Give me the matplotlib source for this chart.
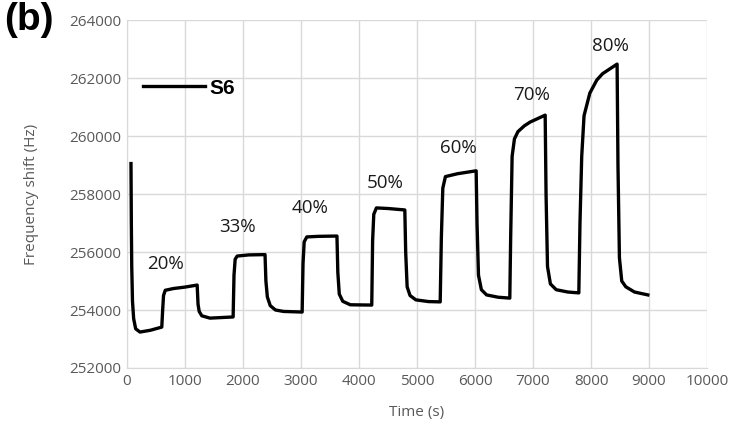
import matplotlib
matplotlib.use("Agg")
import matplotlib.pyplot as plt

# S6 response (time in s, frequency shift in Hz)
time_s = [69, 75, 82, 95, 115, 150, 224, 400, 600,
          615, 630, 660, 800, 1000, 1210,
          1225, 1245, 1290, 1430, 1830,
          1845, 1865, 1900, 2100, 2380,
          2395, 2420, 2470, 2560, 2700, 3020,
          3035, 3055, 3100, 3300, 3620,
          3635, 3660, 3720, 3850, 4220,
          4235, 4255, 4300, 4500, 4790,
          4805, 4830, 4880, 4980, 5200, 5400,
          5420, 5445, 5490, 5700, 6020,
          6035, 6060, 6110, 6200, 6400, 6600,
          6615, 6640, 6680, 6740, 6850, 6950, 7210,
          7225, 7250, 7300, 7400, 7600, 7790,
          7810, 7840, 7880, 7980, 8100, 8200, 8450,
          8465, 8490, 8530, 8600, 8750, 8980]
freq_hz = [259050, 257000, 255500, 254300, 253700, 253350, 253240, 253300, 253410,
           254000, 254500, 254680, 254740, 254790, 254860,
           254200, 253950, 253800, 253720, 253760,
           255200, 255750, 255860, 255900, 255910,
           255000, 254450, 254150, 254000, 253950, 253930,
           255600, 256350, 256520, 256540, 256550,
           255300, 254550, 254300, 254180, 254170,
           256400, 257300, 257520, 257500, 257450,
           256000, 254800, 254500, 254350, 254290, 254280,
           256500, 258200, 258600, 258700, 258800,
           257000, 255200, 254700, 254520, 254440, 254410,
           256500, 259300, 259900, 260150, 260350, 260480, 260720,
           258000, 255500, 254900, 254700, 254620, 254590,
           257000, 259300, 260700, 261480, 261930, 262150, 262480,
           259000, 255800, 255000, 254800, 254620, 254520]

step_labels = ["20%", "33%", "40%", "50%", "60%", "70%", "80%"]
label_t = [672, 1910, 3160, 4460, 5710, 6980, 8330]
label_f = [255590, 256860, 257520, 258380, 259590, 261410, 263100]

x_ticks = list(range(0, 10001, 1000))
y_ticks = list(range(252000, 264001, 2000))

gray = "#595959"
grid_c = "#d9d9d9"

plt.rcParams["font.family"] = ["Open Sans", "DejaVu Sans"]

fig = plt.figure(figsize=(7.37, 4.37), dpi=100)
ax = fig.add_axes([0.1723, 0.1579, 0.7870, 0.7963])

ax.plot(time_s, freq_hz, color="black", linewidth=2.4, label="S6",
        solid_joinstyle="round")

# humidity step labels
for txt, t, f in zip(step_labels, label_t, label_f):
    ax.text(t, f, txt, ha="center", va="center", fontsize=13.5, color="#1a1a1a")

ax.set_xlim(0, 10000)
ax.set_ylim(252000, 264000)
ax.set_xticks(x_ticks)
ax.set_yticks(y_ticks)
ax.tick_params(length=0, labelsize=11, colors=gray, pad=4)
ax.grid(True, color=grid_c, linewidth=1)
ax.set_axisbelow(True)
for side in ["top", "right"]:
    ax.spines[side].set_visible(False)
for side in ["left", "bottom"]:
    ax.spines[side].set_color(grid_c)

ax.set_xlabel("Time (s)", fontsize=11, color=gray, labelpad=12)
ax.set_ylabel("Frequency shift (Hz)", fontsize=11, color=gray, labelpad=22)

leg = ax.legend(loc="upper left", bbox_to_anchor=(-0.005, 0.885), frameon=False,
                handlelength=3.0, handletextpad=0.2,
                prop={"family": "Liberation Sans", "weight": "bold", "size": 15})

fig.text(0.006, 0.995, "(b)", fontsize=28, fontweight="bold", va="top",
         family="Liberation Sans")

fig.savefig("out.png", dpi=100)
